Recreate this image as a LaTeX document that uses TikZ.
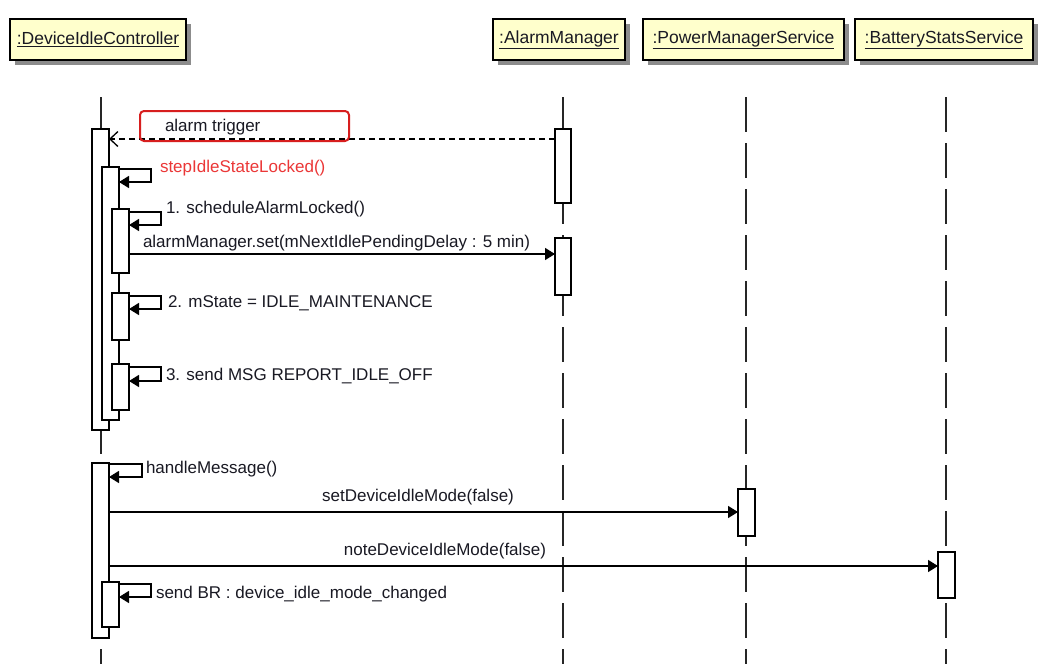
\documentclass[tikz,border=0pt]{standalone}
\usepackage{fontspec}
\setmainfont{Liberation Sans}
\usetikzlibrary{arrows.meta,shadows}
\definecolor{hdrfill}{RGB}{255,255,204}
\definecolor{hlred}{RGB}{215,30,30}
\definecolor{callred}{RGB}{235,55,55}
\definecolor{ink}{RGB}{25,25,35}

\begin{document}
\begin{tikzpicture}[x=1pt,y=-1pt,
  hdr/.style={draw=black, line width=1.6pt, fill=hdrfill, anchor=north west,
    inner sep=0pt, outer sep=0pt, minimum height=41pt, text=ink,
    font=\fontsize{17.5}{20}\selectfont,
    drop shadow={shadow xshift=5pt, shadow yshift=-5pt, fill=black!45, opacity=1}},
  life/.style={line width=1.5pt, draw=black!85, dash pattern=on 35pt off 11pt},
  actbar/.style={draw=black, line width=1.5pt, fill=white, anchor=north west,
    inner sep=0pt, outer sep=0pt, minimum width=17pt},
  syncmsg/.style={line width=1.5pt, -{Triangle[length=10pt,width=12pt]}},
  retmsg/.style={line width=1.3pt, dash pattern=on 6pt off 4pt,
    -{Straight Barb[length=8pt,width=15pt,line width=1.3pt]}},
  lbl/.style={inner sep=0pt, outer sep=0pt, text=ink, font=\fontsize{17}{20}\selectfont},
  hlbox/.style={draw=hlred, line width=2pt, rounded corners=4pt, anchor=north west,
    inner sep=0pt, outer sep=0pt, minimum width=209pt, minimum height=30pt}
]
\useasboundingbox[fill=white] (0,0) rectangle (1050,664);

% participant heads
\node[hdr, minimum width=176pt] (hdc) at (10,19) {\underline{:DeviceIdleController}};
\node[hdr, minimum width=132pt] (ham) at (493,19) {\underline{:AlarmManager}};
\node[hdr, minimum width=201pt] (hpm) at (643,19) {\underline{:PowerManagerService}};
\node[hdr, minimum width=178pt] (hbs) at (855,19) {\underline{:BatteryStatsService}};

% lifelines
\coordinate (ldc) at (101,97);   \coordinate (ldcb) at (101,664);
\coordinate (lam) at (563,97);   \coordinate (lamb) at (563,664);
\coordinate (lpm) at (746,97);   \coordinate (lpmb) at (746,664);
\coordinate (lbs) at (946,97);   \coordinate (lbsb) at (946,664);
\draw[life] (ldc) -- (ldcb);
\draw[life] (lam) -- (lamb);
\draw[life] (lpm) -- (lpmb);
\draw[life] (lbs) -- (lbsb);

% activations of DeviceIdleController (first block)
\node[actbar, minimum height=301pt] (a1) at (92,129) {};
\node[actbar, minimum height=253pt] (a2) at (102,167) {};
\node[actbar, minimum height=64pt]  (a3) at (112,209) {};
\node[actbar, minimum height=47pt]  (a4) at (112,293) {};
\node[actbar, minimum height=46pt]  (a5) at (112,364) {};

% activations of AlarmManager
\node[actbar, minimum height=74pt, minimum width=16pt] (am1) at (555,129) {};
\node[actbar, minimum height=57pt, minimum width=16pt] (am2) at (555,238) {};

% second block
\node[actbar, minimum height=175pt] (b1) at (92,463) {};
\node[actbar, minimum height=45pt]  (b2) at (102,582) {};
\node[actbar, minimum height=47pt]  (pm1) at (738,489) {};
\node[actbar, minimum height=46pt]  (bs1) at (938,552) {};

% alarm trigger (return from AlarmManager)
\draw[retmsg] ([yshift=-10pt]am1.north west) -- ([yshift=-10pt]a1.north east);
\node[hlbox] (hl) at (140,111) {};
\node[lbl, anchor=west] (t0) at (165,127) {alarm trigger};

% self calls and messages
\draw[syncmsg] ([yshift=-2pt]a2.north east) -- ++(32,0) |- ([yshift=-15pt]a2.north east);
\node[lbl, anchor=west, text=callred] (t1) at (160,168) {stepIdleStateLocked()};

\draw[syncmsg] ([yshift=-3pt]a3.north east) -- ++(32,0) |- ([yshift=-16pt]a3.north east);
\node[lbl, anchor=west] (t2) at (166,209) {1. scheduleAlarmLocked()};

\draw[syncmsg] ([yshift=-45pt]a3.north east) -- ([yshift=-16pt]am2.north west);
\node[lbl, anchor=west] (t3) at (143,243) {alarmManager.set(mNextIdlePendingDelay : 5 min)};

\draw[syncmsg] ([yshift=-3pt]a4.north east) -- ++(32,0) |- ([yshift=-16pt]a4.north east);
\node[lbl, anchor=west] (t4) at (168,303) {2. mState = IDLE\_MAINTENANCE};

\draw[syncmsg] ([yshift=-3pt]a5.north east) -- ++(32,0) |- ([yshift=-17pt]a5.north east);
\node[lbl, anchor=west] (t5) at (166,376) {3. send MSG REPORT\_IDLE\_OFF};

\draw[syncmsg] ([yshift=-1pt]b1.north east) -- ++(33,0) |- ([yshift=-14pt]b1.north east);
\node[lbl, anchor=west] (t6) at (146,469) {handleMessage()};

\draw[syncmsg] ([yshift=-49pt]b1.north east) -- ([yshift=-23pt]pm1.north west);
\node[lbl] (t7) at (418,497) {setDeviceIdleMode(false)};

\draw[syncmsg] ([yshift=-103pt]b1.north east) -- ([yshift=-14pt]bs1.north west);
\node[lbl] (t8) at (445,551) {noteDeviceIdleMode(false)};

\draw[syncmsg] ([yshift=-2pt]b2.north east) -- ++(32,0) |- ([yshift=-15pt]b2.north east);
\node[lbl, anchor=west] (t9) at (156,594) {send BR : device\_idle\_mode\_changed};
\end{tikzpicture}
\end{document}
